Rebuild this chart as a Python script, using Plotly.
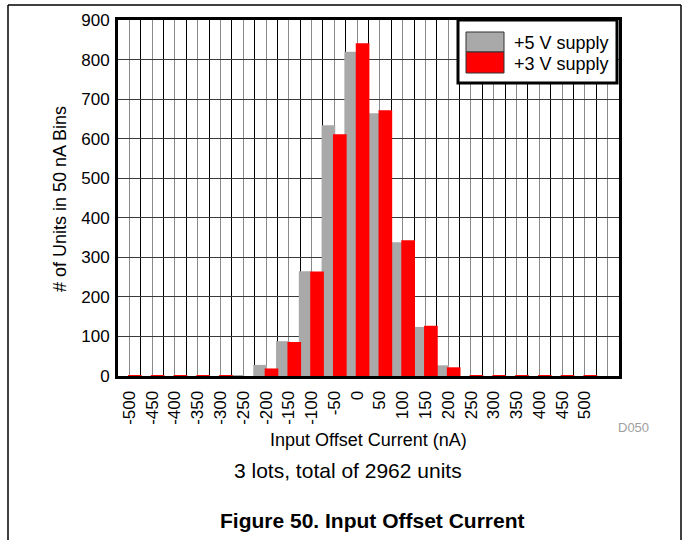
import plotly.graph_objects as go

# Histogram bins (nA) and unit counts per bin
bins = [-500, -450, -400, -350, -300, -250, -200, -150, -100, -50,
        0, 50, 100, 150, 200, 250, 300, 350, 400, 450, 500]
supply_5v = [0, 0, 0, 0, 0, 2, 28, 88, 265, 634,
             820, 664, 338, 124, 27, 0, 0, 0, 0, 0, 0]
supply_3v = [1, 1, 1, 1, 2, 0, 19, 86, 264, 611,
             841, 672, 343, 127, 22, 2, 2, 1, 1, 1, 1]

# category axis positions: one extra unlabeled slot at the right end
tick_vals = bins + [550]
tick_text = [str(b) for b in bins] + [""]
bin_edges = [b + 25 for b in [-500] + bins]

FONT = "Liberation Sans, Arial, sans-serif"

fig = go.Figure()
fig.add_trace(go.Bar(
    x=bins, y=supply_5v, name="+5 V supply",
    marker=dict(color="#a9a9a9", line=dict(width=0)),
    width=30, offset=-28,
))
fig.add_trace(go.Bar(
    x=bins, y=supply_3v, name="+3 V supply",
    marker=dict(color="#ff0000", line=dict(width=0)),
    width=30, offset=-3,
))

fig.update_layout(
    width=687, height=540,
    margin=dict(l=118, r=68, t=20, b=164),
    paper_bgcolor="white", plot_bgcolor="white",
    showlegend=False,
    barmode="overlay",
    font=dict(family=FONT, color="black", size=16),
)

fig.update_xaxes(
    range=[-525, 575],
    tickmode="array", tickvals=tick_vals, ticktext=tick_text,
    tickangle=-90, tickfont=dict(size=17),
    ticks="", ticklabelstandoff=5,
    showgrid=True, gridcolor="#8a8a8a", gridwidth=1,
    minor=dict(tickmode="array", tickvals=bin_edges, showgrid=True,
               gridcolor="#000000", gridwidth=1, ticks=""),
    showline=True, linecolor="black", linewidth=3, mirror=True,
    zeroline=False,
)
fig.update_yaxes(
    range=[0, 900], dtick=100, tick0=0,
    tickfont=dict(size=17), ticks="", ticklabelstandoff=2,
    showgrid=True, gridcolor="#3a3a3a", gridwidth=1,
    showline=True, linecolor="black", linewidth=3, mirror=True,
    zeroline=False,
)

# pixel helpers for paper coordinates (plot area 118..619 x 20..376)
def px(x):
    return (x - 118) / 501.0

def py(y):
    return (376 - y) / 356.0

shapes = []
# legend box with swatches
shapes.append(dict(type="rect", xref="paper", yref="paper",
                   x0=px(458), x1=px(617), y0=py(83), y1=py(20),
                   fillcolor="white", line=dict(color="black", width=3),
                   layer="above"))
shapes.append(dict(type="rect", xref="paper", yref="paper",
                   x0=px(466), x1=px(504), y0=py(52), y1=py(32),
                   fillcolor="#a9a9a9", line=dict(color="#333333", width=1),
                   layer="above"))
shapes.append(dict(type="rect", xref="paper", yref="paper",
                   x0=px(466), x1=px(504), y0=py(73), y1=py(52),
                   fillcolor="#ff0000", line=dict(color="#333333", width=1),
                   layer="above"))
# outer figure frame
for x0, y0, x1, y1 in [(8, 5, 681, 5), (8, 5, 8, 545), (681, 5, 681, 545)]:
    shapes.append(dict(type="line", xref="paper", yref="paper",
                       x0=px(x0), x1=px(x1), y0=py(y0), y1=py(y1),
                       line=dict(color="black", width=1.5), layer="above"))
fig.update_layout(shapes=shapes)

annotations = [
    dict(text="+5 V supply", x=px(512), y=py(43), xanchor="left", yanchor="middle",
         font=dict(size=18)),
    dict(text="+3 V supply", x=px(512), y=py(64), xanchor="left", yanchor="middle",
         font=dict(size=18)),
    dict(text="# of Units in 50 nA Bins", x=px(60), y=py(199), textangle=-90,
         xanchor="center", yanchor="middle", font=dict(size=18)),
    dict(text="Input Offset Current (nA)", x=px(368), y=py(440),
         xanchor="center", yanchor="middle", font=dict(size=18)),
    dict(text="3 lots, total of 2962 units", x=px(348), y=py(470),
         xanchor="center", yanchor="middle", font=dict(size=21)),
    dict(text="D050", x=px(633), y=py(427), xanchor="center", yanchor="middle",
         font=dict(size=13, color="#a0a0a0")),
    dict(text="<b>Figure 50. Input Offset Current</b>", x=px(372), y=py(520),
         xanchor="center", yanchor="middle", font=dict(size=21)),
]
for a in annotations:
    a.update(xref="paper", yref="paper", showarrow=False)
fig.update_layout(annotations=annotations)

fig.write_html("out.html")
